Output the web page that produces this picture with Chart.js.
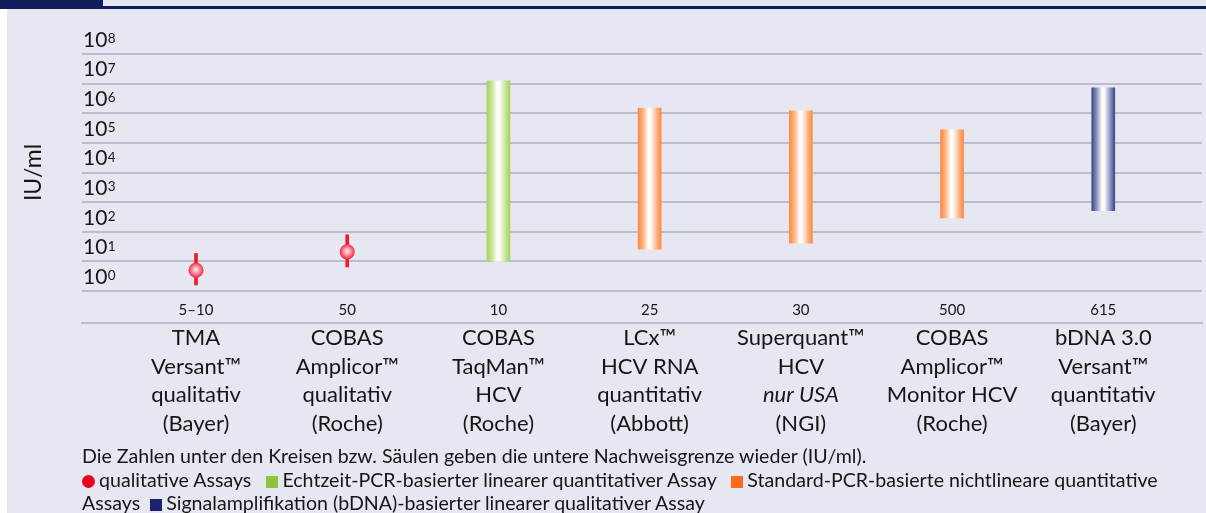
<!DOCTYPE html>
<html>
<head>
<meta charset="utf-8">
<script src="https://cdn.jsdelivr.net/npm/chart.js@4.4.1/dist/chart.umd.min.js"></script>
<style>
body { margin: 0; background: #fff; }
#rahmen { position: relative; width: 1206px; height: 513px; overflow: hidden; }
#flaeche { position: absolute; left: 7px; top: 0; right: 0; bottom: 0; background: #e6e7f0; }
#kopf { position: absolute; left: 0; top: 0; width: 103px; height: 9px; background: #0f1d5c; }
#linie { position: absolute; left: 103px; right: 0; top: 6px; height: 3px; background: #0f1d5c; }
canvas { position: absolute; left: 0; top: 0; }
#fuss { position: absolute; left: 82px; top: 444px; font: 19.6px Lato, sans-serif; line-height: 23.5px; color: #161616; white-space: nowrap; }
.m { display: inline-block; width: 12px; height: 12px; margin-right: 4px; vertical-align: -1px; }
.rund { border-radius: 50%; width: 13px; height: 13px; }
</style>
</head>
<body>
<div id="rahmen">
  <div id="flaeche"></div>
  <div id="kopf"></div>
  <div id="linie"></div>
  <canvas id="grafik" width="1206" height="513"></canvas>
  <div id="fuss">
    Die Zahlen unter den Kreisen bzw. Säulen geben die untere Nachweisgrenze wieder (IU/ml).<br>
    <span class="m rund" style="background:#e8001e"></span>qualitative Assays &nbsp;
    <span class="m" style="background:#8cc63e"></span>Echtzeit-PCR-basierter linearer quantitativer Assay &nbsp;
    <span class="m" style="background:#ff6c17"></span>Standard-PCR-basierte nichtlineare quantitative<br>
    Assays &nbsp;<span class="m" style="background:#1b2270"></span>Signalamplifikation (bDNA)-basierter linearer qualitativer Assay
  </div>
</div>
<script>
// Assays (x-Achse)
const assays = [
    ["TMA", "Versant™", "qualitativ", "(Bayer)"],
    ["COBAS", "Amplicor™", "qualitativ", "(Roche)"],
    ["COBAS", "TaqMan™", "HCV", "(Roche)"],
    ["LCx™", "HCV RNA", "quantitativ", "(Abbott)"],
    ["Superquant™", "HCV", "", "(NGI)"],
    ["COBAS", "Amplicor™", "Monitor HCV", "(Roche)"],
    ["bDNA 3.0", "Versant™", "quantitativ", "(Bayer)"]
];
const nachweisgrenze = ["5–10", "50", "10", "25", "30", "500", "615"];

// qualitative Assays: Kreis mit Strich
const qualIndex = [0, 1];
const qualWert = [5, 21];
const qualVon = [1.6, 6.5];
const qualBis = [18.5, 79];

// quantitative Assays: Säulen
const pcrIndex = [2];
const pcrVon = [10];
const pcrBis = [12500000];

const stdIndex = [3, 4, 5];
const stdVon = [26, 41, 295];
const stdBis = [1500000, 1200000, 275000];

const bdnaIndex = [6];
const bdnaVon = [510];
const bdnaBis = [7200000];

const exponenten = [0, 1, 2, 3, 4, 5, 6, 7, 8];

const gitter = "#bcbcd1";
const schrift = "#161616";

function saeule(farbe, mitte) {
    return function(ctx) {
        if (!ctx.raw) return farbe;
        const x = ctx.chart.scales.x.getPixelForValue(ctx.raw.x);
        if (!isFinite(x)) return farbe;
        const g = ctx.chart.ctx.createLinearGradient(x - 11.5, 0, x + 11.5, 0);
        g.addColorStop(0, farbe);
        g.addColorStop(0.22, mitte);
        g.addColorStop(0.45, "#ffffff");
        g.addColorStop(0.55, "#fbfbfb");
        g.addColorStop(0.8, mitte);
        g.addColorStop(1, farbe);
        return g;
    };
}

function kugel(ctx) {
    if (!ctx.raw) return "#ee2040";
    const x = ctx.chart.scales.x.getPixelForValue(ctx.raw.x);
    const y = ctx.chart.scales.y.getPixelForValue(ctx.raw.y);
    if (!isFinite(x) || !isFinite(y)) return "#ee2040";
    const g = ctx.chart.ctx.createRadialGradient(x, y - 1, 0, x, y, 8);
    g.addColorStop(0, "#fff0f2");
    g.addColorStop(0.45, "#ff94a4");
    g.addColorStop(1, "#f0183a");
    return g;
}

const punkte = (idx, werte) => idx.map((i, k) => ({ x: i, y: werte[k] }));
const spannen = (idx, von, bis) => idx.map((i, k) => ({ x: i, y: [von[k], bis[k]] }));

const alleTicks = s => { s.ticks = assays.map((_, i) => ({ value: i })); };

// Hochzahlen an die y-Beschriftung und "nur USA" kursiv bei Superquant
const extras = {
    id: "extras",
    afterDraw(chart) {
        const c = chart.ctx;
        const y = chart.scales.y;
        c.save();
        c.fillStyle = schrift;
        c.font = "21px Lato";
        const breite = c.measureText("10").width;
        c.font = "13.5px Lato";
        c.textAlign = "left";
        c.textBaseline = "alphabetic";
        y.ticks.forEach(t => {
            const mitte = y.getPixelForValue(t.value) - 14;
            c.fillText(String(Math.round(Math.log10(t.value))), y.right + 1 + breite + 0.5, mitte + 3.2);
        });
        const s = chart.scales.x2;
        c.font = "italic 22px Lato";
        c.textAlign = "center";
        c.textBaseline = "middle";
        c.fillText("nur USA", s.getPixelForValue(4), s.top + 1 + 28.5 * 2 + 14.25);
        c.restore();
    }
};

new Chart(document.getElementById("grafik"), {
    type: "bar",
    data: {
        datasets: [
            {
                type: "line",
                data: punkte(qualIndex, qualWert),
                showLine: false,
                pointRadius: 7.5,
                pointBorderWidth: 0,
                pointBackgroundColor: kugel,
                order: 0
            },
            {
                data: spannen(qualIndex, qualVon, qualBis),
                backgroundColor: "#ee1c25",
                barThickness: 3,
                grouped: false,
                order: 1
            },
            {
                data: spannen(pcrIndex, pcrVon, pcrBis),
                backgroundColor: saeule("#a3d35a", "#c8e69a"),
                barThickness: 23,
                grouped: false,
                order: 1
            },
            {
                data: spannen(stdIndex, stdVon, stdBis),
                backgroundColor: saeule("#ff8840", "#ffb684"),
                barThickness: 23,
                grouped: false,
                order: 1
            },
            {
                data: spannen(bdnaIndex, bdnaVon, bdnaBis),
                backgroundColor: saeule("#3c4888", "#8e95bd"),
                barThickness: 23,
                grouped: false,
                order: 1
            }
        ]
    },
    options: {
        responsive: false,
        animation: false,
        layout: { autoPadding: false, padding: { top: 54, right: 4, bottom: 75, left: 0 } },
        plugins: { legend: { display: false }, tooltip: { enabled: false } },
        scales: {
            x: {
                type: "linear",
                offset: false,
                min: -0.754,
                max: 6.653,
                grid: { display: false, drawTicks: false },
                border: { display: false },
                afterBuildTicks: alleTicks,
                afterFit: s => { s.height = 32; },
                ticks: {
                    callback: v => nachweisgrenze[v],
                    font: { family: "Lato", size: 15 },
                    color: schrift,
                    padding: 10,
                    maxRotation: 0,
                    autoSkip: false
                }
            },
            x2: {
                type: "linear",
                position: "bottom",
                offset: false,
                min: -0.754,
                max: 6.653,
                grid: { display: false, drawTicks: false },
                border: { display: true, color: gitter, width: 2 },
                afterBuildTicks: alleTicks,
                afterFit: s => { s.height = 115; },
                ticks: {
                    callback: v => assays[v],
                    font: { family: "Lato", size: 22, lineHeight: 1.295 },
                    color: schrift,
                    padding: 1,
                    maxRotation: 0,
                    autoSkip: false
                }
            },
            y: {
                type: "logarithmic",
                position: "left",
                min: 1,
                max: 100000000,
                afterBuildTicks: s => { s.ticks = exponenten.map(e => ({ value: Math.pow(10, e) })); },
                afterFit: s => { s.width = 82; },
                grid: { color: gitter, lineWidth: 2, drawTicks: false },
                border: { display: false },
                ticks: {
                    mirror: true,
                    padding: 1,
                    labelOffset: -14,
                    callback: () => "10",
                    font: { family: "Lato", size: 21 },
                    color: schrift
                },
                title: {
                    display: true,
                    text: "IU/ml",
                    font: { family: "Lato", size: 23 },
                    color: schrift,
                    padding: { top: 20, bottom: 0 }
                }
            }
        }
    },
    plugins: [extras]
});
</script>
</body>
</html>
